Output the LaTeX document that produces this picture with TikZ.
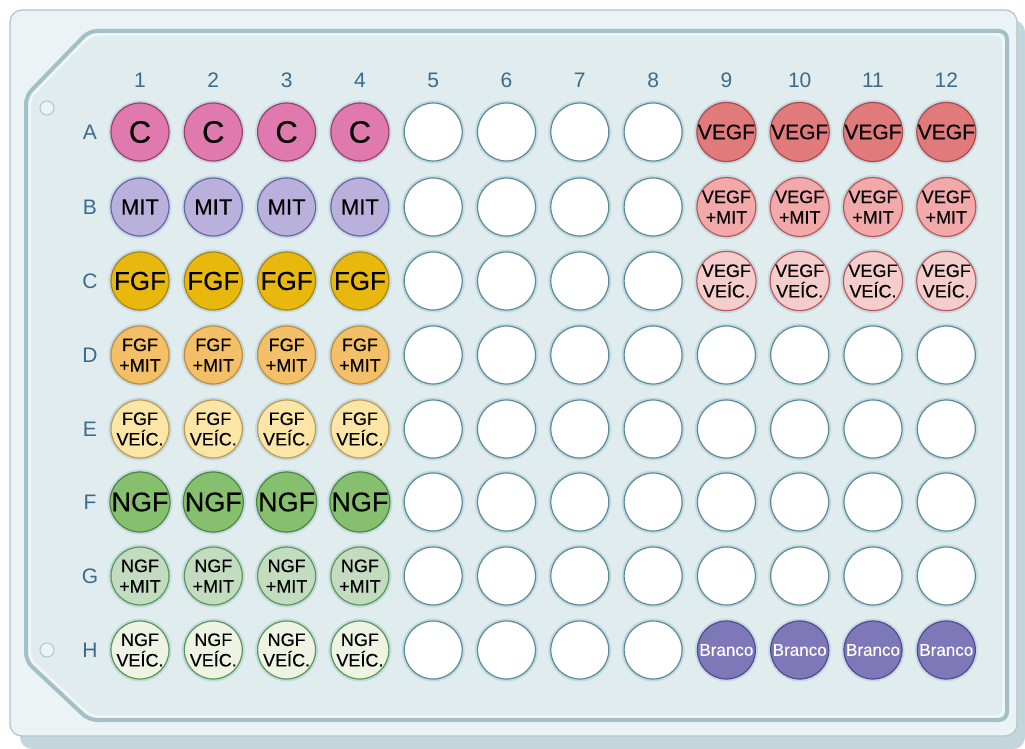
\documentclass[tikz,border=0pt]{standalone}
\usepackage{fontspec}
\setmainfont{Liberation Sans}
\newfontfamily\wellfont[FakeBold=0.35]{Liberation Sans}
\definecolor{bgshadow}{HTML}{C3D6DC}
\definecolor{outerfill}{HTML}{ECF3F4}
\definecolor{outerline}{HTML}{AEC6CD}
\definecolor{innerfill}{HTML}{E0ECEE}
\definecolor{innerline}{HTML}{A3C0C8}
\definecolor{halo}{HTML}{C2DAE2}
\definecolor{lbl}{HTML}{3B6B8C}
\definecolor{emptyline}{HTML}{5C8A95}
\definecolor{cF}{HTML}{E07AAE}\definecolor{cD}{HTML}{9E3E6E}
\definecolor{mF}{HTML}{B9B1DB}\definecolor{mD}{HTML}{6B62A8}
\definecolor{fF}{HTML}{E9B80F}\definecolor{fD}{HTML}{A88512}
\definecolor{fmF}{HTML}{F3BF68}\definecolor{fmD}{HTML}{C08C3C}
\definecolor{fvF}{HTML}{FBE6A8}\definecolor{fvD}{HTML}{C29A4C}
\definecolor{nF}{HTML}{86BF6E}\definecolor{nD}{HTML}{4A873C}
\definecolor{nmF}{HTML}{C3DBBE}\definecolor{nmD}{HTML}{5A9850}
\definecolor{nvF}{HTML}{EEF3E3}\definecolor{nvD}{HTML}{5A9850}
\definecolor{vF}{HTML}{E07A7B}\definecolor{vD}{HTML}{B04848}
\definecolor{vmF}{HTML}{F1A9A9}\definecolor{vmD}{HTML}{C05656}
\definecolor{vvF}{HTML}{F6CDCD}\definecolor{vvD}{HTML}{C05656}
\definecolor{bF}{HTML}{7F78B8}\definecolor{bD}{HTML}{534A8E}
\begin{document}
\begin{tikzpicture}[x=1pt,y=-1pt,
  well/.style={circle, minimum size=58pt, inner sep=0pt, line width=1.2pt,
     preaction={draw=halo, line width=5pt}, align=center, text=black},
  emptywell/.style={well, fill=white, draw=emptyline},
  two/.style={font=\wellfont\fontsize{18}{20.5}\selectfont},
  wC/.style={well, fill=cF, draw=cD, font=\wellfont\fontsize{31}{32}\selectfont},
  wM/.style={well, fill=mF, draw=mD, font=\wellfont\fontsize{22}{24}\selectfont},
  wFGF/.style={well, fill=fF, draw=fD, font=\wellfont\fontsize{26}{28}\selectfont},
  wFM/.style={well, fill=fmF, draw=fmD, two},
  wFV/.style={well, fill=fvF, draw=fvD, two},
  wNGF/.style={well, fill=nF, draw=nD, font=\wellfont\fontsize{27}{29}\selectfont},
  wNM/.style={well, fill=nmF, draw=nmD, two},
  wNV/.style={well, fill=nvF, draw=nvD, two},
  wV/.style={well, fill=vF, draw=vD, font=\wellfont\fontsize{21}{23}\selectfont},
  wVM/.style={well, fill=vmF, draw=vmD, two},
  wVV/.style={well, fill=vvF, draw=vvD, two},
  wB/.style={well, fill=bF, draw=bD, text=white, font=\wellfont\fontsize{17}{20}\selectfont},
  collbl/.style={text=lbl, font=\fontsize{21}{22}\selectfont},
  rowlbl/.style={text=lbl, font=\fontsize{21}{22}\selectfont},
  hole/.style={circle, minimum size=14pt, inner sep=0pt, draw=outerline, fill=outerfill, line width=1pt}
]
\useasboundingbox (0,0) rectangle (1025,749);
\fill[white] (0,0) rectangle (1025,749);
% base shadow
\fill[bgshadow, rounded corners=12pt] (20,20) rectangle (1025,749);
% outer plate
\draw[outerline, fill=outerfill, line width=1.2pt, rounded corners=12pt] (10,10) rectangle (1017,736);
% inner panel
\draw[innerline, line width=4pt, rounded corners=8pt] (89,31) -- (1007,31) -- (1007,720) -- (89,720) -- (26,661) -- (26,96) -- cycle;
\draw[white!60!innerfill, fill=innerfill, line width=1.5pt, rounded corners=7pt] (91,35) -- (1003,35) -- (1003,716) -- (91,716) -- (30,659) -- (30,98) -- cycle;
% holes
\node[hole] (h1) at (47,108) {};
\node[hole] (h2) at (47,650) {};
% column labels
\foreach \c in {1,...,12} \node[collbl] (col\c) at ({140+(\c-1)*73.3},80) {\c};
% row labels
\foreach \r/\y in {A/132,B/207,C/281,D/355,E/429,F/502,G/576,H/650}
  \node[rowlbl] (row\r) at (90,\y) {\r};
% colored wells, columns 1-4
\foreach \c in {1,...,4} {
  \pgfmathsetmacro{\xx}{140+(\c-1)*73.3}
  \node[wC]   (A\c) at (\xx,132) {C};
  \node[wM]   (B\c) at (\xx,207) {MIT};
  \node[wFGF] (C\c) at (\xx,281) {FGF};
  \node[wFM]  (D\c) at (\xx,355) {FGF\\+MIT};
  \node[wFV]  (E\c) at (\xx,429) {FGF\\VEÍC.};
  \node[wNGF] (F\c) at (\xx,502) {NGF};
  \node[wNM]  (G\c) at (\xx,576) {NGF\\+MIT};
  \node[wNV]  (H\c) at (\xx,650) {NGF\\VEÍC.};
}
% empty wells, columns 5-8
\foreach \c in {5,...,8} {
  \pgfmathsetmacro{\xx}{140+(\c-1)*73.3}
  \foreach \r/\y in {A/132,B/207,C/281,D/355,E/429,F/502,G/576,H/650}
    \node[emptywell] (\r\c) at (\xx,\y) {};
}
% columns 9-12
\foreach \c in {9,...,12} {
  \pgfmathsetmacro{\xx}{140+(\c-1)*73.3}
  \node[wV]  (A\c) at (\xx,132) {VEGF};
  \node[wVM] (B\c) at (\xx,207) {VEGF\\+MIT};
  \node[wVV] (C\c) at (\xx,281) {VEGF\\VEÍC.};
  \foreach \r/\y in {D/355,E/429,F/502,G/576}
    \node[emptywell] (\r\c) at (\xx,\y) {};
  \node[wB]  (H\c) at (\xx,650) {Branco};
}
\end{tikzpicture}
\end{document}
